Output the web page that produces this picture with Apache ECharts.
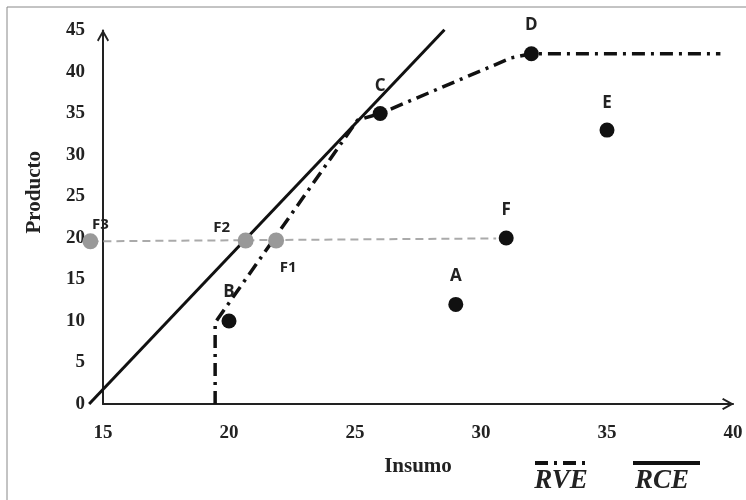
<!DOCTYPE html>
<html>
<head>
<meta charset="utf-8">
<script src="https://cdn.jsdelivr.net/npm/echarts@6/dist/echarts.min.js"></script>
<style>html,body{margin:0;padding:0;background:#fff}#c{width:746px;height:500px}</style>
</head>
<body>
<div id="c"></div>
<script>
// ---- data ----
const xTicks = [15, 20, 25, 30, 35, 40];
const yTicks = [0, 5, 10, 15, 20, 25, 30, 35, 40, 45];
const firmNames = ['A', 'B', 'C', 'D', 'E', 'F'];
const firmX = [29, 20, 26, 32, 35, 31];
const firmY = [12, 10, 35, 42.2, 33, 20];
const projNames = ['F1', 'F2', 'F3'];
const projX = [21.87, 20.66, 14.5];
const projY = [19.7, 19.7, 19.6];
const rceX = [14.45, 28.55];
const rceY = [0, 45.1];
const rveX = [19.45, 19.45, 25.1, 26, 31.2, 32, 39.5];
const rveY = [0, 9.8, 34.2, 35, 41.7, 42.2, 42.2];
const refX = [14.5, 30.6];
const refY = [19.6, 19.95];

// label offsets (style only)
const firmOffsets = { A: [0, -28], B: [0, -29], C: [0, -27], D: [0, -29], E: [0, -27], F: [0, -28] };
const projOffsets = { F1: [12, 27], F2: [-24, -13], F3: [10, -17] };

const zip = (xs, ys) => xs.map((x, i) => [x, ys[i]]);
const dashDot = [13, 6, 3, 6];
const chevron = 'path://M5,0 L10,9 L8.8,10 L5,3.4 L1.2,10 L0,9 Z';

// polyline drawn through the axes' scales (api.coord), not clipped to the grid
function polylineSeries(name, xs, ys, style, z) {
  return {
    name: name, type: 'custom', clip: false, z: z,
    data: zip(xs, ys),
    encode: { x: 0, y: 1 },
    renderItem: function (params, api) {
      if (params.dataIndex !== 0) return null;
      const pts = xs.map((x, i) => api.coord([x, ys[i]]));
      return { type: 'polyline', shape: { points: pts }, style: Object.assign({ fill: null }, style), silent: true };
    }
  };
}

const chart = echarts.init(document.getElementById('c'), null, { renderer: 'canvas' });
const axisLabelStyle = { fontFamily: 'Liberation Serif', fontWeight: 'bold', fontSize: 19, color: '#222' };
const nameStyle = { fontFamily: 'Liberation Serif', fontWeight: 'bold', fontSize: 21, color: '#222' };
const firmLabel = { fontFamily: 'Open Sans', fontWeight: 'bold', fontSize: 17, color: '#222' };
const projLabel = { fontFamily: 'Open Sans', fontWeight: 'bold', fontSize: 15, color: '#222' };

chart.setOption({
  animation: false,
  backgroundColor: '#fff',
  grid: { left: 103, right: 13, top: 30.5, bottom: 96 },
  xAxis: {
    type: 'value', min: xTicks[0], max: xTicks[xTicks.length - 1], interval: 5,
    name: 'Insumo', nameLocation: 'middle', nameGap: 52, nameTextStyle: nameStyle,
    axisLine: { show: true, lineStyle: { color: '#222', width: 2 }, symbol: ['none', chevron], symbolSize: [14, 12], symbolOffset: [0, -5] },
    axisTick: { show: false }, splitLine: { show: false },
    axisLabel: Object.assign({ margin: 20 }, axisLabelStyle)
  },
  yAxis: {
    type: 'value', min: yTicks[0], max: yTicks[yTicks.length - 1], interval: 5,
    name: 'Producto', nameLocation: 'middle', nameGap: 58,
    nameTextStyle: Object.assign({ padding: [0, 0, 0, 50] }, nameStyle),
    axisLine: { show: true, lineStyle: { color: '#222', width: 2 }, symbol: ['none', chevron], symbolSize: [14, 12], symbolOffset: [0, -5] },
    axisTick: { show: false }, splitLine: { show: false },
    axisLabel: Object.assign({ margin: 18 }, axisLabelStyle)
  },
  series: [
    polylineSeries('RCE', rceX, rceY, { stroke: '#111', lineWidth: 3 }, 3),
    polylineSeries('RVE', rveX, rveY, { stroke: '#111', lineWidth: 3.5, lineDash: dashDot }, 3),
    polylineSeries('ref', refX, refY, { stroke: '#aaa', lineWidth: 2, lineDash: [8, 5] }, 2),
    {
      name: 'proj', type: 'scatter', clip: false, symbolSize: 16,
      itemStyle: { color: '#999', opacity: 1 }, z: 4,
      data: projNames.map((n, i) => ({
        name: n, value: [projX[i], projY[i]],
        label: { show: true, position: 'inside', offset: projOffsets[n], formatter: n, ...projLabel }
      }))
    },
    {
      name: 'firms', type: 'scatter', clip: false, symbolSize: 15,
      itemStyle: { color: '#111', opacity: 1 }, z: 5,
      data: firmNames.map((n, i) => ({
        name: n, value: [firmX[i], firmY[i]],
        label: { show: true, position: 'inside', offset: firmOffsets[n], formatter: n, ...firmLabel }
      }))
    }
  ],
  graphic: [
    { type: 'rect', shape: { x: 7, y: 7, width: 780, height: 540 }, style: { fill: null, stroke: '#888', lineWidth: 1 }, silent: true },
    { type: 'line', shape: { x1: 535, y1: 463, x2: 587, y2: 463 }, style: { stroke: '#111', lineWidth: 4, lineDash: [13, 6, 3, 6] } },
    { type: 'text', x: 561, y: 481, style: { text: 'RVE', fontFamily: 'Liberation Serif', fontStyle: 'italic', fontWeight: 'bold', fontSize: 27, fill: '#222', align: 'center', verticalAlign: 'middle' } },
    { type: 'line', shape: { x1: 633, y1: 463, x2: 700, y2: 463 }, style: { stroke: '#111', lineWidth: 4 } },
    { type: 'text', x: 662, y: 481, style: { text: 'RCE', fontFamily: 'Liberation Serif', fontStyle: 'italic', fontWeight: 'bold', fontSize: 27, fill: '#222', align: 'center', verticalAlign: 'middle' } }
  ]
});
</script>
</body>
</html>
